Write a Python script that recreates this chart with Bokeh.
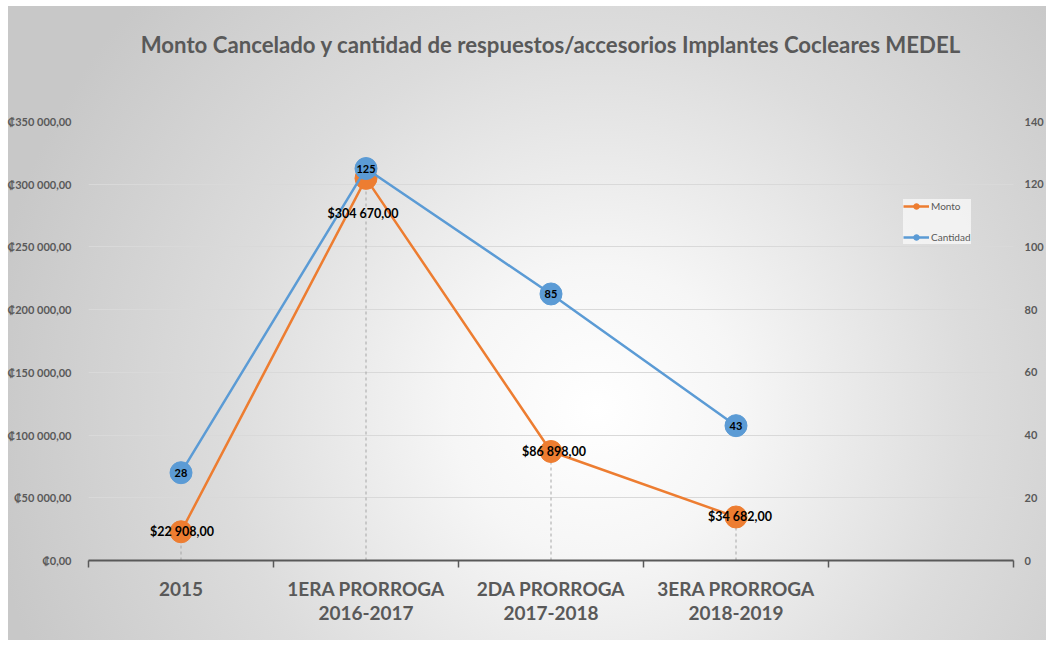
from bokeh.plotting import figure
from bokeh.models import (Range1d, LinearAxis, FixedTicker, Legend, LegendItem,
                          ColumnDataSource, LabelSet, Title)
from bokeh.core.properties import value
from bokeh.embed import file_html
from bokeh.resources import INLINE

# ---------------- data ----------------
categories = ["2015", "1ERA PRORROGA\n2016-2017", "2DA PRORROGA\n2017-2018",
              "3ERA PRORROGA\n2018-2019", ""]
monto = [22908, 304670, 86898, 34682]
cantidad = [28, 125, 85, 43]
monto_labels = ["$22 908,00", "$304 670,00", "$86 898,00", "$34 682,00"]
cantidad_labels = ["28", "125", "85", "43"]
left_ticks = [0, 50000, 100000, 150000, 200000, 250000, 300000, 350000]
left_tick_labels = ["₡0,00", "₡50 000,00", "₡100 000,00", "₡150 000,00",
                    "₡200 000,00", "₡250 000,00", "₡300 000,00", "₡350 000,00"]
right_ticks = [0, 20, 40, 60, 80, 100, 120, 140]
title_text = "Monto Cancelado y cantidad de respuestos/accesorios Implantes Cocleares MEDEL"

# ---------------- style ----------------
FONT = "Lato"
GREY = "#595959"
ORANGE = "#ED7D31"
BLUE = "#5B9BD5"

n = len(categories)
centers = [i + 0.5 for i in range(n)]
xs = centers[:len(monto)]

p = figure(width=1046, height=640, output_backend="svg", toolbar_location=None,
           title=None,
           x_range=Range1d(0, n), y_range=Range1d(left_ticks[0], left_ticks[-1]),
           min_border_left=88, min_border_right=28, min_border_top=121,
           min_border_bottom=80)
p.extra_y_ranges = {"cant": Range1d(right_ticks[0], right_ticks[-1])}

p.styles = {"background": ("linear-gradient(to right, #ffffff 8px, rgba(255,255,255,0) 8px), "
                           "linear-gradient(to bottom, #ffffff 6px, rgba(255,255,255,0) 6px), "
                           "radial-gradient(circle at 57% 64%, #ffffff 0%, #f6f6f6 20%, "
                           "#dcdcdc 52%, #c8c8c8 85%)")}
p.border_fill_color = None
p.background_fill_color = None
p.outline_line_color = None

# spacer between the plot area and the title, then the title itself
spacer = Title(text=" ", text_font=FONT, text_font_size="50px", standoff=0)
p.add_layout(spacer, "above")
title = Title(text=title_text, align="center", text_font=FONT, text_font_size="22.2px",
              text_font_style="bold", text_color=GREY, standoff=4)
p.add_layout(title, "above")

# x axis
xa = p.xaxis[0]
xa.ticker = FixedTicker(ticks=centers, minor_ticks=list(range(n + 1)))
xa.major_label_overrides = {c: lab for c, lab in zip(centers, categories)}
xa.major_tick_line_color = None
xa.minor_tick_in = 0
xa.minor_tick_out = 7
xa.minor_tick_line_color = GREY
xa.minor_tick_line_width = 1.5
xa.axis_line_color = GREY
xa.axis_line_width = 2
xa.major_label_text_font = FONT
xa.major_label_text_font_size = "19px"
xa.major_label_text_font_style = "bold"
xa.major_label_text_color = GREY
xa.major_label_text_line_height = 1.05
xa.major_label_standoff = 9

# left y axis
ya = p.yaxis[0]
ya.ticker = FixedTicker(ticks=left_ticks)
ya.major_label_overrides = {t: lab for t, lab in zip(left_ticks, left_tick_labels)}
ya.axis_line_color = None
ya.major_tick_line_color = None
ya.minor_tick_line_color = None
ya.major_label_standoff = 11
ya.major_label_text_font = FONT
ya.major_label_text_font_size = "11px"
ya.major_label_text_font_style = "bold"
ya.major_label_text_color = GREY

# right y axis
ra = LinearAxis(y_range_name="cant", ticker=FixedTicker(ticks=right_ticks))
ra.axis_line_color = None
ra.major_tick_line_color = None
ra.minor_tick_line_color = None
ra.major_label_standoff = 5
ra.major_label_text_font = FONT
ra.major_label_text_font_size = "11px"
ra.major_label_text_font_style = "bold"
ra.major_label_text_color = GREY
p.add_layout(ra, "right")

p.xgrid.grid_line_color = None
p.ygrid.ticker = FixedTicker(ticks=left_ticks)
p.ygrid.grid_line_color = "#D9D9D9"
p.ygrid.grid_line_width = 1

# drop lines
p.segment(x0=xs, y0=[0] * len(xs), x1=xs, y1=monto, line_dash="3 3",
          line_color="#A6A6A6", line_width=1)

# series
l1 = p.line(xs, monto, line_color=ORANGE, line_width=2.5)
s1 = p.scatter(xs, monto, size=22, fill_color=ORANGE, line_color=ORANGE)
l2 = p.line(xs, cantidad, line_color=BLUE, line_width=2.5, y_range_name="cant")
s2 = p.scatter(xs, cantidad, size=22, fill_color=BLUE, line_color=BLUE,
               y_range_name="cant")

# data labels
label_dx = [1, -3, 3, 4]
label_dy = [0, -35, 0, 0]
msrc = ColumnDataSource(dict(x=xs, y=monto, t=monto_labels, dx=label_dx, dy=label_dy))
p.add_layout(LabelSet(x="x", y="y", text="t", source=msrc, x_offset="dx", y_offset="dy",
                      text_align="center", text_baseline="middle",
                      text_font=value(FONT), text_font_size="12.5px",
                      text_font_style="bold", text_color="black"))
csrc = ColumnDataSource(dict(x=xs, y=cantidad, t=cantidad_labels))
p.add_layout(LabelSet(x="x", y="y", text="t", source=csrc, y_range_name="cant",
                      text_align="center", text_baseline="middle",
                      text_font=value(FONT), text_font_size="11px",
                      text_font_style="bold", text_color="black"))

legend = Legend(items=[LegendItem(label="Monto", renderers=[l1, s1]),
                       LegendItem(label="Cantidad", renderers=[l2, s2])],
                location=(815, 316))
legend.background_fill_color = "#F7F7F7"
legend.background_fill_alpha = 0.8
legend.border_line_color = None
legend.label_text_font = FONT
legend.label_text_font_size = "10px"
legend.label_text_color = GREY
legend.glyph_width = 26
legend.glyph_height = 14
legend.label_width = 40
legend.spacing = 17
legend.padding = 12
legend.margin = 0
legend.label_standoff = 2
p.add_layout(legend)

open("out.html", "w").write(file_html(p, INLINE))
